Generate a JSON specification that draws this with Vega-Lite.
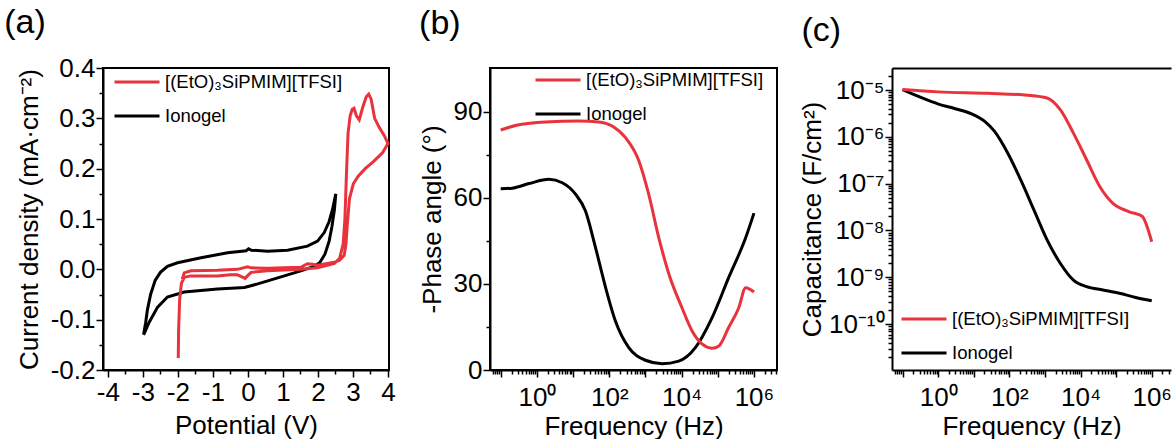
{
  "$schema": "https://vega.github.io/schema/vega-lite/v6.json",
  "padding": {"left": 3, "top": 5, "right": 0, "bottom": 0},
  "spacing": 21,
  "resolve": {"legend": {"color": "independent"}},
  "config": {
    "font": "Liberation Sans",
    "view": {"stroke": "#000", "strokeWidth": 2},
    "locale": {"number": {"decimal": ".", "thousands": ",", "grouping": [3], "currency": ["$", ""], "minus": "-"}},
    "axis": {"labelFont": "Liberation Sans", "labelFontSize": 26, "labelColor": "#000", "titleFont": "Liberation Sans", "titleFontSize": 26, "titleFontWeight": "normal", "titleColor": "#000", "domainColor": "#000", "domainWidth": 2, "tickColor": "#000", "tickWidth": 1.5, "grid": false, "labelOverlap": false, "labelFlush": false, "labelPadding": 2},
    "legend": {"symbolType": "stroke", "symbolStrokeWidth": 3, "symbolSize": 2025, "labelFont": "Liberation Sans", "labelFontSize": 18.5, "labelColor": "#000", "padding": 0, "rowPadding": -13, "labelOffset": 4, "labelLimit": 400},
    "title": {"font": "Liberation Sans", "fontSize": 34, "fontWeight": "normal", "anchor": "start", "color": "#000", "frame": "bounds", "offset": 15}
  },
  "hconcat": [
    {
      "width": 286, "height": 302,
      "title": {"text": "(a)", "dx": -12},
      "data": {"values": [
        {"s": "Ionogel", "i": 1, "v": -2.98, "j": -0.130},
        {"s": "Ionogel", "i": 2, "v": -2.92, "j": -0.105},
        {"s": "Ionogel", "i": 3, "v": -2.87, "j": -0.080},
        {"s": "Ionogel", "i": 4, "v": -2.78, "j": -0.050},
        {"s": "Ionogel", "i": 5, "v": -2.65, "j": -0.022},
        {"s": "Ionogel", "i": 6, "v": -2.50, "j": -0.006},
        {"s": "Ionogel", "i": 7, "v": -2.30, "j": 0.006},
        {"s": "Ionogel", "i": 8, "v": -2.01, "j": 0.013},
        {"s": "Ionogel", "i": 9, "v": -1.34, "j": 0.023},
        {"s": "Ionogel", "i": 10, "v": -0.58, "j": 0.033},
        {"s": "Ionogel", "i": 11, "v": -0.05, "j": 0.037},
        {"s": "Ionogel", "i": 12, "v": 0.02, "j": 0.041},
        {"s": "Ionogel", "i": 13, "v": 0.10, "j": 0.038},
        {"s": "Ionogel", "i": 14, "v": 0.56, "j": 0.036},
        {"s": "Ionogel", "i": 15, "v": 1.13, "j": 0.038},
        {"s": "Ionogel", "i": 16, "v": 1.70, "j": 0.046},
        {"s": "Ionogel", "i": 17, "v": 1.99, "j": 0.056},
        {"s": "Ionogel", "i": 18, "v": 2.18, "j": 0.073},
        {"s": "Ionogel", "i": 19, "v": 2.32, "j": 0.095},
        {"s": "Ionogel", "i": 20, "v": 2.42, "j": 0.120},
        {"s": "Ionogel", "i": 21, "v": 2.51, "j": 0.150},
        {"s": "Ionogel", "i": 22, "v": 2.47, "j": 0.118},
        {"s": "Ionogel", "i": 23, "v": 2.40, "j": 0.085},
        {"s": "Ionogel", "i": 24, "v": 2.32, "j": 0.056},
        {"s": "Ionogel", "i": 25, "v": 2.20, "j": 0.030},
        {"s": "Ionogel", "i": 26, "v": 2.05, "j": 0.013},
        {"s": "Ionogel", "i": 27, "v": 1.89, "j": 0.006},
        {"s": "Ionogel", "i": 28, "v": 1.51, "j": -0.003},
        {"s": "Ionogel", "i": 29, "v": 0.85, "j": -0.017},
        {"s": "Ionogel", "i": 30, "v": 0.28, "j": -0.029},
        {"s": "Ionogel", "i": 31, "v": -0.10, "j": -0.036},
        {"s": "Ionogel", "i": 32, "v": -0.87, "j": -0.039},
        {"s": "Ionogel", "i": 33, "v": -1.82, "j": -0.045},
        {"s": "Ionogel", "i": 34, "v": -2.30, "j": -0.055},
        {"s": "Ionogel", "i": 35, "v": -2.58, "j": -0.075},
        {"s": "Ionogel", "i": 36, "v": -2.82, "j": -0.105},
        {"s": "Ionogel", "i": 37, "v": -2.98, "j": -0.130},
        {"s": "[(EtO)₃SiPMIM][TFSI]", "i": 1, "v": -1.99, "j": -0.176},
        {"s": "[(EtO)₃SiPMIM][TFSI]", "i": 2, "v": -1.98, "j": -0.120},
        {"s": "[(EtO)₃SiPMIM][TFSI]", "i": 3, "v": -1.95, "j": -0.060},
        {"s": "[(EtO)₃SiPMIM][TFSI]", "i": 4, "v": -1.90, "j": -0.028},
        {"s": "[(EtO)₃SiPMIM][TFSI]", "i": 5, "v": -1.82, "j": -0.016},
        {"s": "[(EtO)₃SiPMIM][TFSI]", "i": 6, "v": -1.63, "j": -0.013},
        {"s": "[(EtO)₃SiPMIM][TFSI]", "i": 7, "v": -0.87, "j": -0.013},
        {"s": "[(EtO)₃SiPMIM][TFSI]", "i": 8, "v": -0.50, "j": -0.011},
        {"s": "[(EtO)₃SiPMIM][TFSI]", "i": 9, "v": -0.30, "j": -0.011},
        {"s": "[(EtO)₃SiPMIM][TFSI]", "i": 10, "v": -0.20, "j": -0.014},
        {"s": "[(EtO)₃SiPMIM][TFSI]", "i": 11, "v": -0.08, "j": -0.018},
        {"s": "[(EtO)₃SiPMIM][TFSI]", "i": 12, "v": 0.00, "j": -0.012},
        {"s": "[(EtO)₃SiPMIM][TFSI]", "i": 13, "v": 0.09, "j": -0.006},
        {"s": "[(EtO)₃SiPMIM][TFSI]", "i": 14, "v": 0.56, "j": -0.003},
        {"s": "[(EtO)₃SiPMIM][TFSI]", "i": 15, "v": 1.51, "j": 0.000},
        {"s": "[(EtO)₃SiPMIM][TFSI]", "i": 16, "v": 1.99, "j": 0.003},
        {"s": "[(EtO)₃SiPMIM][TFSI]", "i": 17, "v": 2.47, "j": 0.012},
        {"s": "[(EtO)₃SiPMIM][TFSI]", "i": 18, "v": 2.62, "j": 0.022},
        {"s": "[(EtO)₃SiPMIM][TFSI]", "i": 19, "v": 2.72, "j": 0.050},
        {"s": "[(EtO)₃SiPMIM][TFSI]", "i": 20, "v": 2.77, "j": 0.100},
        {"s": "[(EtO)₃SiPMIM][TFSI]", "i": 21, "v": 2.82, "j": 0.200},
        {"s": "[(EtO)₃SiPMIM][TFSI]", "i": 22, "v": 2.86, "j": 0.270},
        {"s": "[(EtO)₃SiPMIM][TFSI]", "i": 23, "v": 2.92, "j": 0.305},
        {"s": "[(EtO)₃SiPMIM][TFSI]", "i": 24, "v": 2.98, "j": 0.318},
        {"s": "[(EtO)₃SiPMIM][TFSI]", "i": 25, "v": 3.03, "j": 0.320},
        {"s": "[(EtO)₃SiPMIM][TFSI]", "i": 26, "v": 3.10, "j": 0.305},
        {"s": "[(EtO)₃SiPMIM][TFSI]", "i": 27, "v": 3.18, "j": 0.297},
        {"s": "[(EtO)₃SiPMIM][TFSI]", "i": 28, "v": 3.28, "j": 0.322},
        {"s": "[(EtO)₃SiPMIM][TFSI]", "i": 29, "v": 3.38, "j": 0.343},
        {"s": "[(EtO)₃SiPMIM][TFSI]", "i": 30, "v": 3.45, "j": 0.348},
        {"s": "[(EtO)₃SiPMIM][TFSI]", "i": 31, "v": 3.52, "j": 0.338},
        {"s": "[(EtO)₃SiPMIM][TFSI]", "i": 32, "v": 3.62, "j": 0.300},
        {"s": "[(EtO)₃SiPMIM][TFSI]", "i": 33, "v": 3.75, "j": 0.282},
        {"s": "[(EtO)₃SiPMIM][TFSI]", "i": 34, "v": 3.90, "j": 0.265},
        {"s": "[(EtO)₃SiPMIM][TFSI]", "i": 35, "v": 4.00, "j": 0.250},
        {"s": "[(EtO)₃SiPMIM][TFSI]", "i": 36, "v": 3.85, "j": 0.232},
        {"s": "[(EtO)₃SiPMIM][TFSI]", "i": 37, "v": 3.60, "j": 0.215},
        {"s": "[(EtO)₃SiPMIM][TFSI]", "i": 38, "v": 3.35, "j": 0.200},
        {"s": "[(EtO)₃SiPMIM][TFSI]", "i": 39, "v": 3.15, "j": 0.185},
        {"s": "[(EtO)₃SiPMIM][TFSI]", "i": 40, "v": 3.01, "j": 0.170},
        {"s": "[(EtO)₃SiPMIM][TFSI]", "i": 41, "v": 2.90, "j": 0.140},
        {"s": "[(EtO)₃SiPMIM][TFSI]", "i": 42, "v": 2.84, "j": 0.090},
        {"s": "[(EtO)₃SiPMIM][TFSI]", "i": 43, "v": 2.80, "j": 0.050},
        {"s": "[(EtO)₃SiPMIM][TFSI]", "i": 44, "v": 2.75, "j": 0.028},
        {"s": "[(EtO)₃SiPMIM][TFSI]", "i": 45, "v": 2.62, "j": 0.018},
        {"s": "[(EtO)₃SiPMIM][TFSI]", "i": 46, "v": 2.47, "j": 0.014},
        {"s": "[(EtO)₃SiPMIM][TFSI]", "i": 47, "v": 1.99, "j": 0.008},
        {"s": "[(EtO)₃SiPMIM][TFSI]", "i": 48, "v": 1.85, "j": 0.010},
        {"s": "[(EtO)₃SiPMIM][TFSI]", "i": 49, "v": 1.70, "j": 0.011},
        {"s": "[(EtO)₃SiPMIM][TFSI]", "i": 50, "v": 1.51, "j": 0.004},
        {"s": "[(EtO)₃SiPMIM][TFSI]", "i": 51, "v": 0.56, "j": 0.002},
        {"s": "[(EtO)₃SiPMIM][TFSI]", "i": 52, "v": 0.09, "j": 0.003},
        {"s": "[(EtO)₃SiPMIM][TFSI]", "i": 53, "v": -0.01, "j": 0.005},
        {"s": "[(EtO)₃SiPMIM][TFSI]", "i": 54, "v": -0.30, "j": 0.000},
        {"s": "[(EtO)₃SiPMIM][TFSI]", "i": 55, "v": -0.87, "j": -0.002},
        {"s": "[(EtO)₃SiPMIM][TFSI]", "i": 56, "v": -1.63, "j": -0.003},
        {"s": "[(EtO)₃SiPMIM][TFSI]", "i": 57, "v": -1.82, "j": -0.007},
        {"s": "[(EtO)₃SiPMIM][TFSI]", "i": 58, "v": -1.88, "j": -0.020}
      ]},
      "mark": {"type": "line", "strokeWidth": 3, "interpolate": "linear"},
      "encoding": {
        "x": {"field": "v", "type": "quantitative", "scale": {"domain": [-4.14, 4.03], "nice": false, "zero": false},
          "axis": {"title": "Potential (V)", "values": [-4, -3.5, -3, -2.5, -2, -1.5, -1, -0.5, 0, 0.5, 1, 1.5, 2, 2.5, 3, 3.5, 4], "format": ".0f",
            "labelExpr": "datum.value % 1 === 0 ? datum.label : ''",
            "tickSize": {"condition": {"test": "datum.value % 1 === 0", "value": 7}, "value": 4}, "titlePadding": 7}},
        "y": {"field": "j", "type": "quantitative", "scale": {"domain": [-0.2, 0.4], "nice": false, "zero": false},
          "axis": {"title": "Current density (mA·cm⁻²)", "values": [-0.2, -0.15, -0.1, -0.05, 0, 0.05, 0.1, 0.15, 0.2, 0.25, 0.3, 0.35, 0.4], "format": ".1f",
            "labelExpr": "round(datum.value * 20) % 2 === 0 ? datum.label : ''",
            "tickSize": {"condition": {"test": "round(datum.value * 20) % 2 === 0", "value": 7}, "value": 4}, "titlePadding": 8, "labelPadding": 1}},
        "color": {"field": "s", "type": "nominal", "scale": {"domain": ["[(EtO)₃SiPMIM][TFSI]", "Ionogel"], "range": ["#e8333c", "#000000"]},
          "legend": {"title": null, "orient": "none", "legendX": 10, "legendY": -10}},
        "order": {"field": "i", "type": "quantitative"}
      }
    },
    {
      "width": 287, "height": 302,
      "title": {"text": "(b)", "dx": 0},
      "data": {"values": [
        {"s": "Ionogel", "f": 0.1, "p": 63.2},
        {"s": "Ionogel", "f": 0.209, "p": 63.4},
        {"s": "Ionogel", "f": 0.603, "p": 65.0},
        {"s": "Ionogel", "f": 2.14, "p": 66.5},
        {"s": "Ionogel", "f": 5.01, "p": 65.3},
        {"s": "Ionogel", "f": 11.7, "p": 61.3},
        {"s": "Ionogel", "f": 21.9, "p": 55.5},
        {"s": "Ionogel", "f": 41.7, "p": 42.7},
        {"s": "Ionogel", "f": 79.4, "p": 28.7},
        {"s": "Ionogel", "f": 148, "p": 17.1},
        {"s": "Ionogel", "f": 347, "p": 7.8},
        {"s": "Ionogel", "f": 1000, "p": 3.4},
        {"s": "Ionogel", "f": 2884, "p": 2.2},
        {"s": "Ionogel", "f": 8318, "p": 3.1},
        {"s": "Ionogel", "f": 23988, "p": 7.8},
        {"s": "Ionogel", "f": 69183, "p": 18.2},
        {"s": "Ionogel", "f": 199526, "p": 32.2},
        {"s": "Ionogel", "f": 588844, "p": 46.1},
        {"s": "Ionogel", "f": 1000000, "p": 54.7},
        {"s": "[(EtO)₃SiPMIM][TFSI]", "f": 0.1, "p": 83.7},
        {"s": "[(EtO)₃SiPMIM][TFSI]", "f": 0.316, "p": 85.5},
        {"s": "[(EtO)₃SiPMIM][TFSI]", "f": 1.74, "p": 86.5},
        {"s": "[(EtO)₃SiPMIM][TFSI]", "f": 14.5, "p": 86.8},
        {"s": "[(EtO)₃SiPMIM][TFSI]", "f": 51.3, "p": 86.5},
        {"s": "[(EtO)₃SiPMIM][TFSI]", "f": 120, "p": 85.1},
        {"s": "[(EtO)₃SiPMIM][TFSI]", "f": 282, "p": 81.0},
        {"s": "[(EtO)₃SiPMIM][TFSI]", "f": 661, "p": 72.9},
        {"s": "[(EtO)₃SiPMIM][TFSI]", "f": 1230, "p": 61.3},
        {"s": "[(EtO)₃SiPMIM][TFSI]", "f": 2344, "p": 46.1},
        {"s": "[(EtO)₃SiPMIM][TFSI]", "f": 4467, "p": 33.4},
        {"s": "[(EtO)₃SiPMIM][TFSI]", "f": 10233, "p": 21.7},
        {"s": "[(EtO)₃SiPMIM][TFSI]", "f": 19498, "p": 13.6},
        {"s": "[(EtO)₃SiPMIM][TFSI]", "f": 37154, "p": 9.0},
        {"s": "[(EtO)₃SiPMIM][TFSI]", "f": 69183, "p": 7.6},
        {"s": "[(EtO)₃SiPMIM][TFSI]", "f": 107152, "p": 8.4},
        {"s": "[(EtO)₃SiPMIM][TFSI]", "f": 199526, "p": 14.8},
        {"s": "[(EtO)₃SiPMIM][TFSI]", "f": 380189, "p": 21.7},
        {"s": "[(EtO)₃SiPMIM][TFSI]", "f": 588844, "p": 28.7},
        {"s": "[(EtO)₃SiPMIM][TFSI]", "f": 1000000, "p": 27.2}
      ]},
      "mark": {"type": "line", "strokeWidth": 3, "interpolate": "monotone"},
      "encoding": {
        "x": {"field": "f", "type": "quantitative", "scale": {"type": "log", "domain": [0.0506, 4330000], "nice": false},
          "axis": {"title": "Frequency (Hz)", "titlePadding": 3, "labelPadding": 7,
            "values": [0.06, 0.07, 0.08, 0.09, 0.1, 0.2, 0.3, 0.4, 0.5, 0.6, 0.7, 0.8, 0.9, 1, 2, 3, 4, 5, 6, 7, 8, 9, 10, 20, 30, 40, 50, 60, 70, 80, 90, 100, 200, 300, 400, 500, 600, 700, 800, 900, 1000, 2000, 3000, 4000, 5000, 6000, 7000, 8000, 9000, 10000, 20000, 30000, 40000, 50000, 60000, 70000, 80000, 90000, 100000, 200000, 300000, 400000, 500000, 600000, 700000, 800000, 900000, 1000000, 2000000, 3000000, 4000000],
            "labelExpr": "abs(log(datum.value)/LN10 - round(log(datum.value)/LN10)) > 0.001 ? '' : ['', '10⁰', '', '10²', '', '10⁴', '', '10⁶'][round(log(datum.value)/LN10) + 1]",
            "tickSize": {"condition": {"test": "abs(log(datum.value)/LN10 - round(log(datum.value)/LN10)) < 0.001", "value": 7}, "value": 4}}},
        "y": {"field": "p", "type": "quantitative", "scale": {"domain": [0, 105.3], "nice": false, "zero": false},
          "axis": {"title": "-Phase angle (°)", "values": [0, 15, 30, 45, 60, 75, 90], "format": "d",
            "labelExpr": "datum.value % 30 === 0 ? datum.label : ''",
            "tickSize": {"condition": {"test": "datum.value % 30 === 0", "value": 7}, "value": 4}, "titlePadding": 8, "labelPadding": 1}},
        "color": {"field": "s", "type": "nominal", "scale": {"domain": ["[(EtO)₃SiPMIM][TFSI]", "Ionogel"], "range": ["#e8333c", "#000000"]},
          "legend": {"title": null, "orient": "none", "legendX": 44, "legendY": -12}}
      }
    },
    {
      "width": 279, "height": 302,
      "view": {"stroke": null},
      "title": {"text": "(c)", "dx": 2},
      "data": {"values": [
        {"s": "Ionogel", "f": 0.1, "c": 1.02e-5},
        {"s": "Ionogel", "f": 0.355, "c": 6.76e-6},
        {"s": "Ionogel", "f": 1.02, "c": 5.01e-6},
        {"s": "Ionogel", "f": 3.02, "c": 3.98e-6},
        {"s": "Ionogel", "f": 8.71, "c": 3.09e-6},
        {"s": "Ionogel", "f": 20.4, "c": 2.14e-6},
        {"s": "Ionogel", "f": 38.0, "c": 1.32e-6},
        {"s": "Ionogel", "f": 89.1, "c": 4.57e-7},
        {"s": "Ionogel", "f": 209, "c": 1.20e-7},
        {"s": "Ionogel", "f": 490, "c": 2.75e-8},
        {"s": "Ionogel", "f": 1148, "c": 6.31e-9},
        {"s": "Ionogel", "f": 2692, "c": 2.00e-9},
        {"s": "Ionogel", "f": 6310, "c": 8.71e-10},
        {"s": "Ionogel", "f": 14791, "c": 6.31e-10},
        {"s": "Ionogel", "f": 42658, "c": 5.37e-10},
        {"s": "Ionogel", "f": 123027, "c": 4.57e-10},
        {"s": "Ionogel", "f": 354813, "c": 3.72e-10},
        {"s": "Ionogel", "f": 1000000, "c": 3.16e-10},
        {"s": "[(EtO)₃SiPMIM][TFSI]", "f": 0.1, "c": 1.02e-5},
        {"s": "[(EtO)₃SiPMIM][TFSI]", "f": 1.02, "c": 9.12e-6},
        {"s": "[(EtO)₃SiPMIM][TFSI]", "f": 25.1, "c": 8.51e-6},
        {"s": "[(EtO)₃SiPMIM][TFSI]", "f": 324, "c": 7.76e-6},
        {"s": "[(EtO)₃SiPMIM][TFSI]", "f": 1148, "c": 6.76e-6},
        {"s": "[(EtO)₃SiPMIM][TFSI]", "f": 2692, "c": 3.80e-6},
        {"s": "[(EtO)₃SiPMIM][TFSI]", "f": 6310, "c": 1.20e-6},
        {"s": "[(EtO)₃SiPMIM][TFSI]", "f": 14791, "c": 3.24e-7},
        {"s": "[(EtO)₃SiPMIM][TFSI]", "f": 34674, "c": 8.71e-8},
        {"s": "[(EtO)₃SiPMIM][TFSI]", "f": 81283, "c": 3.80e-8},
        {"s": "[(EtO)₃SiPMIM][TFSI]", "f": 234423, "c": 2.51e-8},
        {"s": "[(EtO)₃SiPMIM][TFSI]", "f": 549541, "c": 2.00e-8},
        {"s": "[(EtO)₃SiPMIM][TFSI]", "f": 676083, "c": 1.45e-8},
        {"s": "[(EtO)₃SiPMIM][TFSI]", "f": 1000000, "c": 5.75e-9}
      ]},
      "resolve": {"axis": {"x": "independent"}},
      "layer": [
        {
          "mark": {"type": "line", "strokeWidth": 3, "interpolate": "monotone"},
          "encoding": {
            "x": {"field": "f", "type": "quantitative", "scale": {"type": "log", "domain": [0.0506, 3475000], "nice": false},
              "axis": {"title": "Frequency (Hz)", "orient": "bottom", "titlePadding": 3, "labelPadding": 7,
                "values": [0.06, 0.07, 0.08, 0.09, 0.1, 0.2, 0.3, 0.4, 0.5, 0.6, 0.7, 0.8, 0.9, 1, 2, 3, 4, 5, 6, 7, 8, 9, 10, 20, 30, 40, 50, 60, 70, 80, 90, 100, 200, 300, 400, 500, 600, 700, 800, 900, 1000, 2000, 3000, 4000, 5000, 6000, 7000, 8000, 9000, 10000, 20000, 30000, 40000, 50000, 60000, 70000, 80000, 90000, 100000, 200000, 300000, 400000, 500000, 600000, 700000, 800000, 900000, 1000000, 2000000, 3000000],
                "labelExpr": "abs(log(datum.value)/LN10 - round(log(datum.value)/LN10)) > 0.001 ? '' : ['', '10⁰', '', '10²', '', '10⁴', '', '10⁶'][round(log(datum.value)/LN10) + 1]",
                "tickSize": {"condition": {"test": "abs(log(datum.value)/LN10 - round(log(datum.value)/LN10)) < 0.001", "value": 7}, "value": 4}}},
            "y": {"field": "c", "type": "quantitative", "scale": {"type": "log", "domain": [1.05e-11, 2.95e-5], "nice": false},
              "axis": {"title": "Capacitance (F/cm²)", "titlePadding": 3, "labelPadding": 1,
                "values": [2e-11, 3e-11, 4e-11, 5e-11, 6e-11, 7e-11, 8e-11, 9e-11, 1e-10, 2e-10, 3e-10, 4e-10, 5e-10, 6e-10, 7e-10, 8e-10, 9e-10, 1e-9, 2e-9, 3e-9, 4e-9, 5e-9, 6e-9, 7e-9, 8e-9, 9e-9, 1e-8, 2e-8, 3e-8, 4e-8, 5e-8, 6e-8, 7e-8, 8e-8, 9e-8, 1e-7, 2e-7, 3e-7, 4e-7, 5e-7, 6e-7, 7e-7, 8e-7, 9e-7, 1e-6, 2e-6, 3e-6, 4e-6, 5e-6, 6e-6, 7e-6, 8e-6, 9e-6, 1e-5, 2e-5],
                "labelExpr": "abs(log(datum.value)/LN10 - round(log(datum.value)/LN10)) > 0.001 ? '' : ['10⁻¹⁰', '10⁻⁹', '10⁻⁸', '10⁻⁷', '10⁻⁶', '10⁻⁵'][round(log(datum.value)/LN10) + 10]",
                "tickSize": {"condition": {"test": "abs(log(datum.value)/LN10 - round(log(datum.value)/LN10)) < 0.001", "value": 7}, "value": 4}}},
            "color": {"field": "s", "type": "nominal", "scale": {"domain": ["[(EtO)₃SiPMIM][TFSI]", "Ionogel"], "range": ["#e8333c", "#000000"]},
              "legend": {"title": null, "orient": "none", "legendX": 8, "legendY": 227}}
          }
        },
        {
          "mark": {"type": "rule", "opacity": 0},
          "encoding": {
            "x": {"field": "f", "type": "quantitative", "scale": {"type": "log", "domain": [0.0506, 3475000], "nice": false},
              "axis": {"orient": "top", "title": null, "labels": false, "ticks": false, "domain": true}}
          }
        }
      ]
    }
  ]
}
